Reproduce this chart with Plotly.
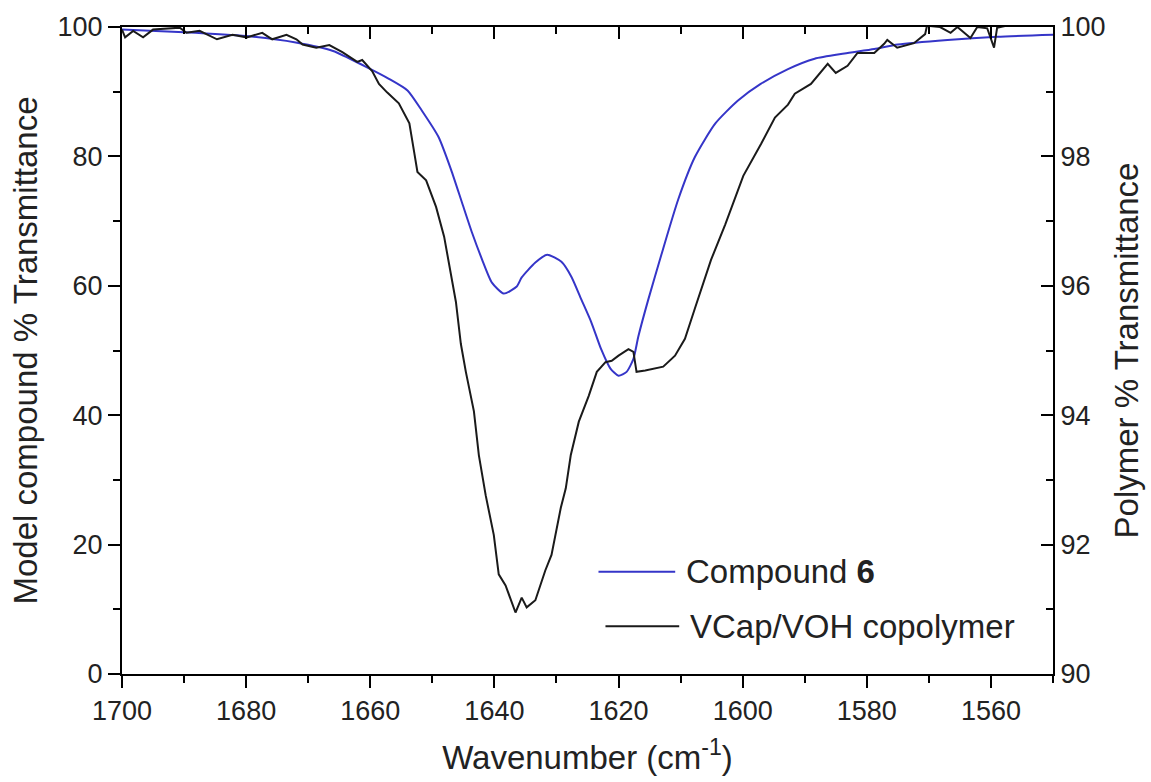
import plotly.graph_objects as go

# Compound 6 (left axis, Model compound % Transmittance)
cmp_wn = [1700, 1690, 1680, 1672, 1666, 1661, 1657, 1654, 1651.7, 1649, 1647, 1645.2,
          1643.6, 1642, 1640.4, 1638.5, 1636.4, 1635.6, 1633.4, 1631.5, 1629.2, 1627.6,
          1626, 1624.4, 1622.8, 1621.3, 1620, 1618.7, 1617.6, 1616.8, 1615.2, 1613.1,
          1610.4, 1607.7, 1604.4, 1600.8, 1597.1, 1592.7, 1588.4, 1583.6, 1578.8, 1575,
          1567, 1559, 1550]
cmp_T = [99.6, 99.2, 98.6, 97.6, 96.3, 94.0, 92.0, 90.2, 87.1, 83.0, 78.0, 72.8,
         68.2, 64.1, 60.5, 58.8, 59.9, 61.3, 63.6, 64.8, 63.7, 61.4,
         57.9, 54.4, 50.2, 47.2, 46.1, 46.7, 48.7, 52.2, 57.9, 64.8,
         73.3, 79.9, 85.1, 88.6, 91.2, 93.5, 95.1, 95.9, 96.6, 97.3,
         98.0, 98.5, 98.8]

# VCap/VOH copolymer (right axis, Polymer % Transmittance)
pol_wn = [1700, 1699.5, 1698.2, 1696.6, 1695.0, 1690.7, 1689.6, 1687.5, 1684.7, 1682.2,
          1679.9, 1677.4, 1675.8, 1673.5, 1671.9, 1670.9, 1668.7, 1666.6, 1664.5, 1662.1,
          1661.3, 1659.7, 1658.6, 1657.3, 1655.4, 1653.7, 1652.9, 1652.4, 1651.0, 1649.4,
          1648.1, 1647.0, 1646.2, 1645.4, 1644.6, 1643.3, 1642.5, 1641.4, 1640.1, 1639.3,
          1638.2, 1636.6, 1635.6, 1634.8, 1633.4, 1631.8, 1630.8, 1629.3, 1628.5, 1627.7,
          1626.4, 1624.8, 1623.5, 1622.1, 1621.1, 1620.0, 1618.4, 1617.6, 1617.1, 1615.7,
          1614.1, 1612.8, 1610.9, 1609.3, 1607.7, 1605.1, 1602.8, 1599.9, 1597.0, 1594.8,
          1592.7, 1591.6, 1589.0, 1586.3, 1585.0, 1583.1, 1581.5, 1578.8, 1577.2, 1576.7,
          1575.1, 1572.4, 1570.6, 1570.3, 1568.2, 1566.5, 1565.4, 1563.3, 1562.2, 1560.6,
          1559.5, 1559.0, 1557, 1554, 1550]
pol_T = [99.96, 99.84, 99.94, 99.84, 99.96, 99.99, 99.91, 99.94, 99.81, 99.88,
         99.84, 99.91, 99.81, 99.88, 99.81, 99.73, 99.68, 99.72, 99.61, 99.46,
         99.49, 99.32, 99.12, 98.99, 98.82, 98.51, 98.05, 97.76, 97.63, 97.22,
         96.76, 96.21, 95.75, 95.10, 94.67, 94.06, 93.38, 92.76, 92.15, 91.54,
         91.37, 90.95, 91.18, 91.03, 91.14, 91.60, 91.84, 92.57, 92.87, 93.38,
         93.90, 94.30, 94.67, 94.82, 94.84, 94.92, 95.02, 94.98, 94.67, 94.69,
         94.72, 94.75, 94.92, 95.18, 95.65, 96.40, 96.95, 97.70, 98.20, 98.60,
         98.80, 98.97, 99.12, 99.43, 99.29, 99.40, 99.60, 99.60, 99.74, 99.80,
         99.68, 99.75, 99.89, 100.02, 100.0, 99.91, 100.0, 99.83, 100.0, 99.98,
         99.68, 99.99, 100.03, 100.02, 100.03]

x_ticks = [1700, 1680, 1660, 1640, 1620, 1600, 1580, 1560]
left_ticks = [0, 20, 40, 60, 80, 100]
right_ticks = [90, 92, 94, 96, 98, 100]

BLUE = "#3535c8"
BLACK = "#1a1a1a"
FONT = "Liberation Sans, Arial, sans-serif"
TXT = "#222222"
TITLE_SIZE = 33

fig = go.Figure()
fig.add_trace(go.Scatter(x=cmp_wn, y=cmp_T, mode="lines", name="Compound 6",
                         line=dict(color=BLUE, width=2, shape="spline", smoothing=0.6),
                         xaxis="x", yaxis="y", showlegend=False))
fig.add_trace(go.Scatter(x=pol_wn, y=pol_T, mode="lines", name="VCap/VOH copolymer",
                         line=dict(color=BLACK, width=2),
                         xaxis="x2", yaxis="y2", showlegend=False))

axis_common = dict(showline=True, linecolor="black", linewidth=2, showgrid=False,
                   zeroline=False, tickcolor="black", tickwidth=2, ticklen=12,
                   tickfont=dict(family=FONT, size=27, color=TXT))

fig.update_layout(
    width=1151, height=782,
    margin=dict(l=122, r=95, t=26, b=105),
    paper_bgcolor="white", plot_bgcolor="white",
    font=dict(family=FONT, color=TXT),
    xaxis=dict(range=[1700, 1550], tickvals=x_ticks, ticks="outside",
               minor=dict(dtick=10, tick0=1700, ticks="outside", ticklen=7, tickwidth=2, tickcolor="black"),
               title=dict(text="Wavenumber (cm<sup>-1</sup>)", font=dict(family=FONT, size=TITLE_SIZE, color=TXT), standoff=20),
               **axis_common),
    xaxis2=dict(range=[1700, 1550], overlaying="x", side="top", tickvals=x_ticks, ticks="inside",
                showticklabels=False,
                minor=dict(dtick=10, tick0=1700, ticks="inside", ticklen=7, tickwidth=2, tickcolor="black"),
                **axis_common),
    yaxis=dict(range=[0, 100], tickvals=left_ticks, ticks="outside",
               minor=dict(dtick=10, tick0=0, ticks="outside", ticklen=7, tickwidth=2, tickcolor="black"),
               title=dict(text="Model compound % Transmittance", font=dict(family=FONT, size=TITLE_SIZE, color=TXT), standoff=10),
               **axis_common),
    yaxis2=dict(range=[90, 100], overlaying="y", side="right", tickvals=right_ticks, ticks="inside",
                minor=dict(dtick=1, tick0=90, ticks="inside", ticklen=7, tickwidth=2, tickcolor="black"),
                title=dict(text="Polymer % Transmittance", font=dict(family=FONT, size=TITLE_SIZE, color=TXT), standoff=10),
                **axis_common),
)

# manual legend
fig.add_shape(type="line", xref="paper", yref="paper", x0=0.5118, x1=0.5942, y0=0.1582, y1=0.1582,
              line=dict(color=BLUE, width=2))
fig.add_shape(type="line", xref="paper", yref="paper", x0=0.5193, x1=0.5985, y0=0.0737, y1=0.0737,
              line=dict(color=BLACK, width=2))
fig.add_annotation(xref="paper", yref="paper", x=0.6039, y=0.1582, xanchor="left", yanchor="middle",
                   text="Compound <b>6</b>", showarrow=False, font=dict(family=FONT, size=33, color=TXT))
fig.add_annotation(xref="paper", yref="paper", x=0.6081, y=0.0737, xanchor="left", yanchor="middle",
                   text="VCap/VOH copolymer", showarrow=False, font=dict(family=FONT, size=33, color=TXT))

fig.write_html("out.html")
